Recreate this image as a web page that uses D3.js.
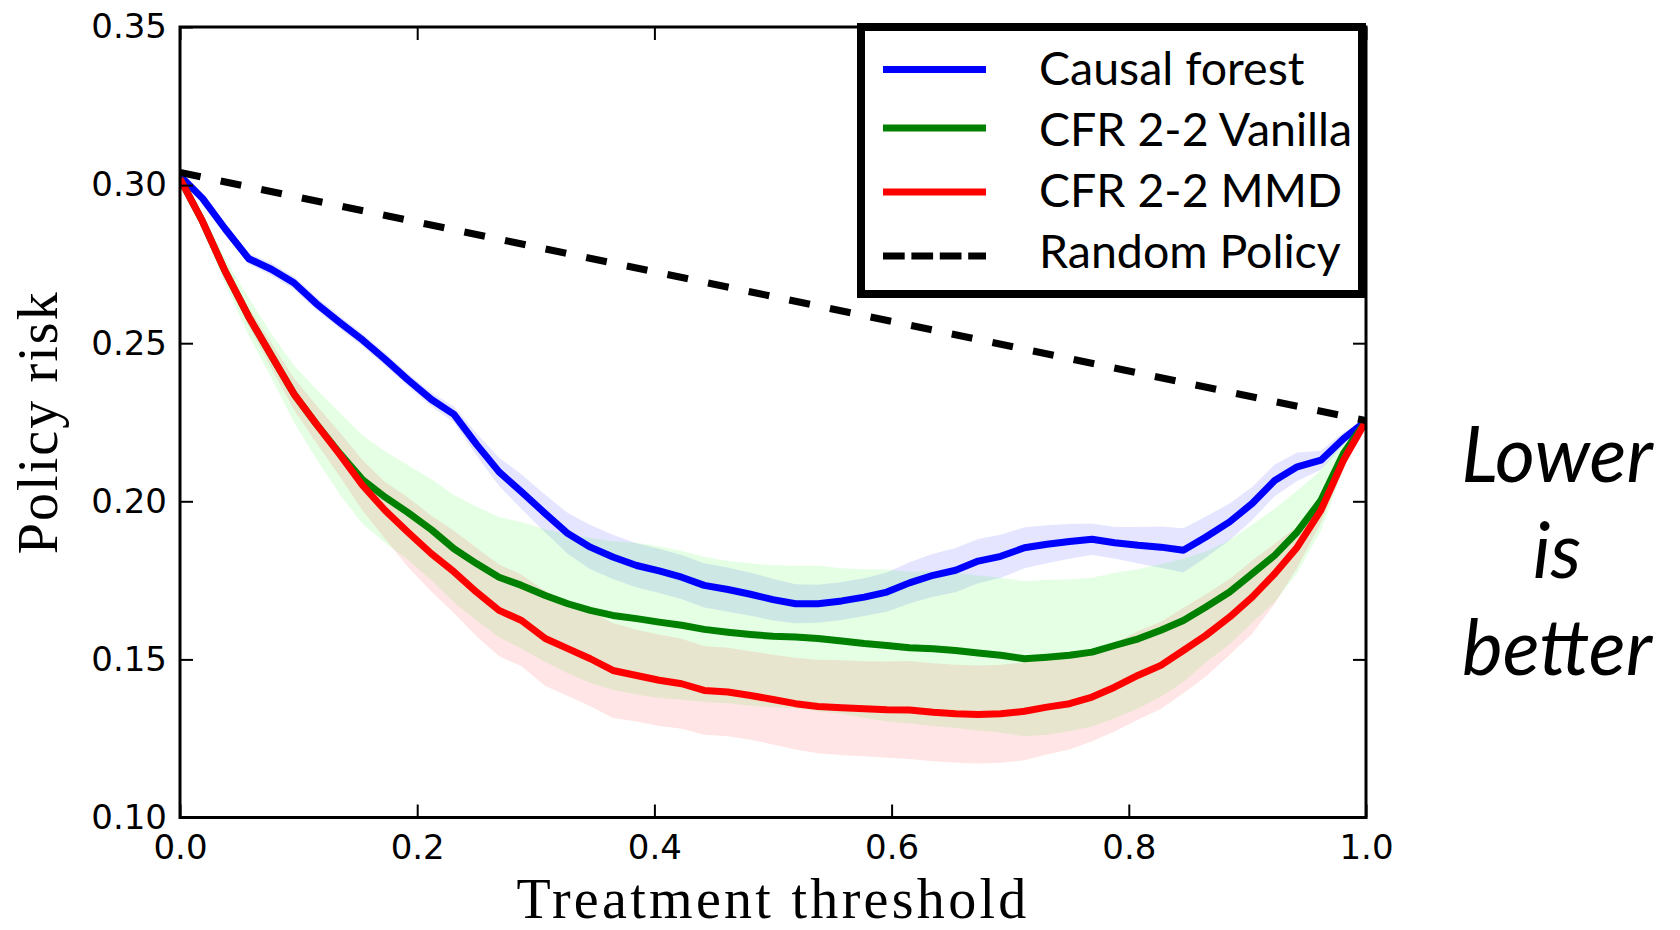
<!DOCTYPE html>
<html>
<head>
<meta charset="utf-8">
<script src="https://cdn.jsdelivr.net/npm/d3@7"></script>
<style>
  body { margin: 0; background: #ffffff; }
</style>
</head>
<body>
<div id="chart"></div>
<script>
// treatment thresholds (x) shared by every curve
const thresholds = [0, 0.019, 0.038, 0.058, 0.077, 0.096, 0.115, 0.135, 0.154, 0.173,
  0.192, 0.212, 0.231, 0.250, 0.269, 0.288, 0.308, 0.327, 0.346, 0.365,
  0.385, 0.404, 0.423, 0.442, 0.462, 0.481, 0.500, 0.519, 0.538, 0.558,
  0.577, 0.596, 0.615, 0.635, 0.654, 0.673, 0.692, 0.712, 0.731, 0.750,
  0.769, 0.788, 0.808, 0.827, 0.846, 0.865, 0.885, 0.904, 0.923, 0.942,
  0.962, 0.981, 1.0];

const causalForest = [0.3030, 0.2958, 0.2862, 0.2767, 0.2734, 0.2691, 0.2625, 0.2565, 0.2510, 0.2449,
  0.2385, 0.2322, 0.2275, 0.2180, 0.2093, 0.2030, 0.1961, 0.1898, 0.1855, 0.1824,
  0.1797, 0.1780, 0.1760, 0.1734, 0.1721, 0.1706, 0.1689, 0.1676, 0.1676, 0.1685,
  0.1697, 0.1713, 0.1742, 0.1766, 0.1782, 0.1811, 0.1826, 0.1853, 0.1864, 0.1873,
  0.1880, 0.1869, 0.1861, 0.1855, 0.1845, 0.1887, 0.1935, 0.1993, 0.2066, 0.2109,
  0.2130, 0.2198, 0.2254];
const causalForestErr = [0, 0.0012, 0.0015, 0.0017, 0.002, 0.002, 0.002, 0.002, 0.002, 0.002,
  0.002, 0.0022, 0.0025, 0.0035, 0.0045, 0.0055, 0.006, 0.0065, 0.007, 0.007,
  0.007, 0.007, 0.007, 0.007, 0.007, 0.0068, 0.0066, 0.0062, 0.006, 0.006,
  0.006, 0.0062, 0.0065, 0.0068, 0.007, 0.007, 0.0068, 0.0065, 0.006, 0.0055,
  0.005, 0.005, 0.0058, 0.0065, 0.007, 0.0065, 0.0058, 0.0052, 0.005, 0.0045,
  0.003, 0.002, 0];

const cfrVanilla = [0.3020, 0.2885, 0.2728, 0.2583, 0.2461, 0.2340, 0.2244, 0.2150, 0.2068, 0.2013,
  0.1965, 0.1910, 0.1850, 0.1803, 0.1760, 0.1734, 0.1702, 0.1676, 0.1655, 0.1639,
  0.1629, 0.1618, 0.1608, 0.1595, 0.1586, 0.1579, 0.1573, 0.1571, 0.1566, 0.1558,
  0.1550, 0.1544, 0.1537, 0.1534, 0.1528, 0.1520, 0.1513, 0.1502, 0.1507, 0.1513,
  0.1523, 0.1544, 0.1565, 0.1592, 0.1623, 0.1666, 0.1713, 0.1771, 0.1829, 0.1903,
  0.2003, 0.2151, 0.2254];
const cfrVanillaErr = [0, 0.002, 0.004, 0.006, 0.007, 0.009, 0.011, 0.013, 0.014, 0.0145,
  0.015, 0.016, 0.017, 0.018, 0.019, 0.020, 0.021, 0.022, 0.023, 0.0235,
  0.024, 0.024, 0.0235, 0.023, 0.0225, 0.0225, 0.0225, 0.0225, 0.023, 0.023,
  0.0235, 0.024, 0.024, 0.0245, 0.0245, 0.0245, 0.0245, 0.0245, 0.0245, 0.024,
  0.0235, 0.023, 0.022, 0.021, 0.0195, 0.0175, 0.0165, 0.0155, 0.0148, 0.013,
  0.0095, 0.005, 0];

const cfrMmd = [0.3020, 0.2885, 0.2728, 0.2583, 0.2461, 0.2340, 0.2244, 0.2147, 0.2050, 0.1971,
  0.1903, 0.1834, 0.1777, 0.1713, 0.1655, 0.1623, 0.1566, 0.1534, 0.1502, 0.1465,
  0.1449, 0.1434, 0.1423, 0.1402, 0.1397, 0.1386, 0.1373, 0.1360, 0.1351, 0.1347,
  0.1344, 0.1341, 0.1340, 0.1333, 0.1328, 0.1326, 0.1328, 0.1336, 0.1349, 0.1360,
  0.1381, 0.1412, 0.1450, 0.1481, 0.1528, 0.1576, 0.1634, 0.1697, 0.1771, 0.1855,
  0.1972, 0.2130, 0.2254];
const cfrMmdErr = [0, 0.001, 0.002, 0.003, 0.004, 0.005, 0.006, 0.007, 0.008, 0.009,
  0.011, 0.012, 0.013, 0.014, 0.0145, 0.0145, 0.015, 0.015, 0.015, 0.015,
  0.0145, 0.0145, 0.0142, 0.014, 0.014, 0.014, 0.0142, 0.0145, 0.0148, 0.015,
  0.015, 0.0152, 0.0155, 0.0155, 0.0155, 0.0155, 0.0155, 0.0155, 0.015, 0.0145,
  0.014, 0.014, 0.014, 0.0138, 0.0135, 0.013, 0.012, 0.0116, 0.0095, 0.0065,
  0.004, 0.0025, 0];

// random policy is a straight line between the two ends
const randomX = [0, 1];
const randomPolicy = [0.304, 0.2255];

const legendLabels = ["Causal forest", "CFR 2-2 Vanilla", "CFR 2-2 MMD", "Random Policy"];
const xTicks = [0.0, 0.2, 0.4, 0.6, 0.8, 1.0];
const yTicks = [0.10, 0.15, 0.20, 0.25, 0.30, 0.35];
const noteLines = ["Lower", "is", "better"];

// band tint differs a little from the line colour (lime band under the green line)
const series = [
  { mean: causalForest, err: causalForestErr, color: "#0000ff", band: "#0000ff" },
  { mean: cfrVanilla, err: cfrVanillaErr, color: "#008000", band: "#00ff00" },
  { mean: cfrMmd, err: cfrMmdErr, color: "#ff0000", band: "#ff0000" }
];

const plotLeft = 180, plotRight = 1366, plotTop = 27, plotBottom = 817.5;

const svg = d3.select("#chart").append("svg")
  .attr("width", 1680)
  .attr("height", 930);

const x = d3.scaleLinear().domain([0, 1]).range([plotLeft, plotRight]);
const y = d3.scaleLinear().domain([0.10, 0.35]).range([plotBottom, plotTop]);

svg.append("clipPath").attr("id", "plot-clip")
  .append("rect")
  .attr("x", plotLeft).attr("y", plotTop)
  .attr("width", plotRight - plotLeft).attr("height", plotBottom - plotTop);

const plot = svg.append("g").attr("clip-path", "url(#plot-clip)");

// shaded bands first, then the lines on top
for (let s of series) {
  const band = d3.area()
    .x((d, i) => x(thresholds[i]))
    .y0((d, i) => y(s.mean[i] - s.err[i]))
    .y1((d, i) => y(s.mean[i] + s.err[i]));
  plot.append("path")
    .datum(s.mean)
    .attr("d", band)
    .attr("fill", s.band)
    .attr("fill-opacity", 0.1);
}

for (let s of series) {
  const line = d3.line()
    .x((d, i) => x(thresholds[i]))
    .y(d => y(d));
  plot.append("path")
    .datum(s.mean)
    .attr("d", line)
    .attr("fill", "none")
    .attr("stroke", s.color)
    .attr("stroke-width", 7)
    .attr("stroke-linejoin", "round");
}

const randomLine = d3.line()
  .x((d, i) => x(randomX[i]))
  .y(d => y(d));
plot.append("path")
  .datum(randomPolicy)
  .attr("d", randomLine)
  .attr("fill", "none")
  .attr("stroke", "#000000")
  .attr("stroke-width", 7)
  .attr("stroke-dasharray", "21,20.5");

// axes: inward ticks on all four sides, labels only left and bottom
const tickFont = "'DejaVu Sans', sans-serif";

const xAxis = svg.append("g")
  .attr("transform", `translate(0,${plotBottom})`)
  .call(d3.axisBottom(x).tickValues(xTicks).tickFormat(d3.format(".1f"))
    .tickSize(-13).tickSizeOuter(0).tickPadding(17));
const yAxis = svg.append("g")
  .attr("transform", `translate(${plotLeft},0)`)
  .call(d3.axisLeft(y).tickValues(yTicks).tickFormat(d3.format(".2f"))
    .tickSize(-13).tickSizeOuter(0).tickPadding(13));
const topAxis = svg.append("g")
  .attr("transform", `translate(0,${plotTop})`)
  .call(d3.axisTop(x).tickValues(xTicks).tickFormat("").tickSize(-13).tickSizeOuter(0));
const rightAxis = svg.append("g")
  .attr("transform", `translate(${plotRight},0)`)
  .call(d3.axisRight(y).tickValues(yTicks).tickFormat("").tickSize(-13).tickSizeOuter(0));

for (let g of [xAxis, yAxis, topAxis, rightAxis]) {
  g.select(".domain").remove();
  g.selectAll(".tick line").attr("stroke", "#000").attr("stroke-width", 2);
  g.selectAll(".tick text")
    .attr("font-family", tickFont)
    .attr("font-size", 34)
    .attr("fill", "#000");
}

// frame
svg.append("rect")
  .attr("x", plotLeft).attr("y", plotTop)
  .attr("width", plotRight - plotLeft).attr("height", plotBottom - plotTop)
  .attr("fill", "none")
  .attr("stroke", "#000")
  .attr("stroke-width", 3);

// axis titles
svg.append("text")
  .attr("x", (plotLeft + plotRight) / 2)
  .attr("y", 918)
  .attr("text-anchor", "middle")
  .attr("font-family", "'Liberation Serif', serif")
  .attr("font-size", 56)
  .attr("letter-spacing", 3.3)
  .text("Treatment threshold");

svg.append("text")
  .attr("transform", `translate(57,${(plotTop + plotBottom) / 2}) rotate(-90)`)
  .attr("text-anchor", "middle")
  .attr("font-family", "'Liberation Serif', serif")
  .attr("font-size", 56)
  .attr("letter-spacing", 2.1)
  .text("Policy risk");

// legend box
const legend = svg.append("g");
legend.append("rect")
  .attr("x", 861).attr("y", 27)
  .attr("width", 501).attr("height", 267)
  .attr("fill", "#ffffff")
  .attr("stroke", "#000")
  .attr("stroke-width", 8);

const handleY = [69.5, 128, 192, 256];
const textY = [85, 146, 207, 268];
const handleColors = ["#0000ff", "#008000", "#ff0000", "#000000"];
for (let i = 0; i < legendLabels.length; i++) {
  const h = legend.append("line")
    .attr("x1", 883).attr("x2", 986)
    .attr("y1", handleY[i]).attr("y2", handleY[i])
    .attr("stroke", handleColors[i])
    .attr("stroke-width", 7);
  if (i === 3) {
    h.attr("stroke-dasharray", "21.7,6.7");
  }
  legend.append("text")
    .attr("x", 1039)
    .attr("y", textY[i])
    .attr("font-family", "Lato, sans-serif")
    .attr("font-size", 46.5)
    .attr("fill", "#000")
    .text(legendLabels[i]);
}

// note on the right
const noteY = [482, 578, 675];
for (let i = 0; i < noteLines.length; i++) {
  svg.append("text")
    .attr("x", 1557)
    .attr("y", noteY[i])
    .attr("text-anchor", "middle")
    .attr("font-family", "Lato, sans-serif")
    .attr("font-style", "italic")
    .attr("font-size", 77)
    .attr("fill", "#000")
    .text(noteLines[i]);
}
</script>
</body>
</html>
